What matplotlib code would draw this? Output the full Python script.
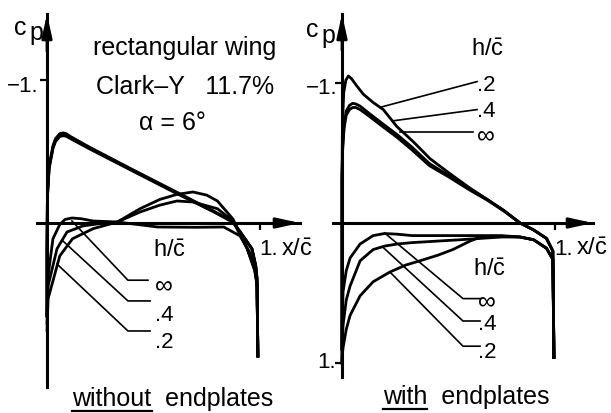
import matplotlib.pyplot as plt

plt.rcParams['font.family'] = ['Liberation Sans', 'DejaVu Sans']
plt.rcParams['mathtext.fontset'] = 'custom'
plt.rcParams['mathtext.rm'] = 'Liberation Sans'
plt.rcParams['mathtext.it'] = 'Liberation Sans'

W, H = 611, 414

# ---- without endplates: pressure distributions, c_p over x/c ----
# upper surface, same stations for every h/c
wo_up_x = [0.0, 0.0, 0.002, 0.01, 0.028, 0.04, 0.06, 0.075, 0.09, 0.11, 0.2, 0.4,
           0.61, 0.78, 0.873, 0.92, 0.962, 0.98, 0.986, 0.99]
wo_up_inf = [0.65, 0.2, -0.2, -0.4, -0.54, -0.59, -0.625, -0.63, -0.625, -0.605, -0.53, -0.375,
             -0.215, -0.085, -0.01, 0.09, 0.18, 0.3, 0.39, 0.93]
wo_up_04 = [0.65, 0.2, -0.19, -0.39, -0.53, -0.58, -0.615, -0.62, -0.615, -0.597, -0.524, -0.37,
            -0.21, -0.082, -0.008, 0.09, 0.18, 0.3, 0.39, 0.93]
wo_up_02 = [0.65, 0.2, -0.18, -0.38, -0.52, -0.57, -0.605, -0.61, -0.607, -0.59, -0.518, -0.365,
            -0.205, -0.08, -0.005, 0.09, 0.18, 0.3, 0.39, 0.93]

# lower surface
wo_lo_inf_x = [0.0, 0.005, 0.028, 0.06, 0.085, 0.117, 0.16, 0.216, 0.33, 0.52, 0.7, 0.83,
               0.906, 0.95, 0.977, 0.986, 0.99]
wo_lo_inf = [0.65, 0.37, 0.11, 0.01, -0.025, -0.035, -0.03, -0.014, -0.007, 0.028, 0.03, 0.028,
             0.09, 0.2, 0.33, 0.45, 0.93]
wo_lo_04_x = [0.0, 0.005, 0.047, 0.094, 0.17, 0.25, 0.33, 0.437, 0.53, 0.61, 0.685, 0.8,
              0.873, 0.94, 0.975, 0.986, 0.99]
wo_lo_04 = [0.7, 0.44, 0.18, 0.063, 0.02, 0.004, -0.007, -0.077, -0.125, -0.154, -0.147, -0.1,
            -0.014, 0.18, 0.33, 0.42, 0.93]
wo_lo_02_x = [0.0, 0.005, 0.06, 0.12, 0.216, 0.33, 0.437, 0.53, 0.61, 0.685, 0.75, 0.8,
              0.873, 0.94, 0.975, 0.986, 0.99]
wo_lo_02 = [0.75, 0.53, 0.23, 0.11, 0.04, -0.007, -0.1, -0.165, -0.2, -0.217, -0.195, -0.154,
            -0.028, 0.18, 0.33, 0.42, 0.93]

# ---- with endplates ----
we_up_02_x = [0.0, 0.0, 0.002, 0.008, 0.018, 0.03, 0.045, 0.069, 0.1, 0.147, 0.194, 0.257,
              0.335, 0.413, 0.5, 0.6, 0.68, 0.76, 0.836, 0.9, 0.96, 0.99, 0.995]
we_up_02 = [0.9, -0.3, -0.7, -0.93, -1.02, -1.05, -1.03, -0.98, -0.92, -0.86, -0.81, -0.69,
            -0.58, -0.46, -0.36, -0.25, -0.17, -0.09, 0.0, 0.05, 0.11, 0.2, 0.96]
we_up_x = [0.0, 0.0, 0.003, 0.01, 0.02, 0.035, 0.05, 0.065, 0.085, 0.13, 0.19, 0.26,
           0.33, 0.41, 0.5, 0.6, 0.68, 0.76, 0.836, 0.9, 0.96, 0.99, 0.995]
we_up_inf = [0.9, -0.3, -0.52, -0.68, -0.77, -0.81, -0.825, -0.825, -0.81, -0.76, -0.69, -0.61,
             -0.52, -0.41, -0.33, -0.235, -0.165, -0.085, 0.0, 0.05, 0.11, 0.2, 0.96]
we_up_04 = [0.9, -0.32, -0.55, -0.71, -0.8, -0.84, -0.855, -0.85, -0.835, -0.78, -0.71, -0.63,
            -0.54, -0.425, -0.34, -0.245, -0.17, -0.088, 0.0, 0.05, 0.11, 0.2, 0.96]

we_lo_x = [0.0, 0.001, 0.005, 0.02, 0.038, 0.085, 0.146, 0.2, 0.26, 0.33, 0.55, 0.75,
           0.836, 0.9, 0.96, 0.99, 0.995]
we_lo_inf = [1.0, 0.7, 0.49, 0.34, 0.25, 0.15, 0.09, 0.075, 0.08, 0.09, 0.09, 0.09,
             0.1, 0.12, 0.18, 0.26, 0.96]
we_lo_04 = [1.0, 0.85, 0.73, 0.55, 0.45, 0.27, 0.19, 0.165, 0.15, 0.14, 0.12, 0.1,
            0.1, 0.12, 0.18, 0.26, 0.96]
we_lo_02_x = [0.0, 0.001, 0.005, 0.02, 0.038, 0.085, 0.146, 0.225, 0.3, 0.366, 0.45, 0.52,
              0.6, 0.65, 0.75, 0.836, 0.9, 0.96, 0.99, 0.995]
we_lo_02 = [1.0, 0.95, 0.89, 0.76, 0.66, 0.52, 0.42, 0.35, 0.3, 0.27, 0.23, 0.19,
            0.13, 0.1, 0.095, 0.1, 0.12, 0.18, 0.26, 0.96]

hc_labels = ['\u221e', '.4', '.2']
HC = r'$\mathrm{h/}\bar{\mathrm{c}}$'
XC = r'$\mathrm{x/}\bar{\mathrm{c}}$'

LW = 2.0
FS = 16


def make_panel(box, origin, sx, sy):
    l, t, r, b = box
    ax = fig.add_axes([l / W, 1 - b / H, (r - l) / W, (b - t) / H])
    ax.set_xlim((l - origin[0]) / sx, (r - origin[0]) / sx)
    ax.set_ylim((b - origin[1]) / sy, (t - origin[1]) / sy)
    ax.patch.set_alpha(0)
    for s in ['top', 'right']:
        ax.spines[s].set_visible(False)
    ax.spines['left'].set_position(('data', 0))
    ax.spines['bottom'].set_position(('data', 0))
    for s in ['left', 'bottom']:
        ax.spines[s].set_linewidth(2.2)
    ax.tick_params(direction='out', length=5, width=1.6, labelleft=False, labelbottom=False)
    ax.set_xticks([1])
    # arrow heads on both axes
    head = dict(arrowstyle='-|>,head_length=1.0,head_width=0.22', color='k', lw=2,
                mutation_scale=14, shrinkA=0, shrinkB=0)
    ax.annotate('', xy=(1, 0), xytext=(0.9, 0),
                xycoords=('axes fraction', 'data'), textcoords=('axes fraction', 'data'),
                arrowprops=head)
    ax.annotate('', xy=(0, 1), xytext=(0, 0.9),
                xycoords=('data', 'axes fraction'), textcoords=('data', 'axes fraction'),
                arrowprops=head)
    return ax


def leader(ax, p0, elbow, p1):
    ax.plot([p0[0], elbow[0], p1[0]], [p0[1], elbow[1], p1[1]], color='k', lw=1.2)


def underline_word(text, word, y_px):
    fig.canvas.draw()
    r = fig.canvas.get_renderer()
    full = text.get_window_extent(r)
    tmp = fig.text(0, 0, word, fontsize=text.get_fontsize())
    w = tmp.get_window_extent(r).width
    tmp.remove()
    x0 = full.x0 / fig.dpi / (W / 100)
    x1 = (full.x0 + w) / fig.dpi / (W / 100)
    fig.add_artist(plt.Line2D([x0, x1], [1 - y_px / H] * 2, color='k', lw=1.6))


fig = plt.figure(figsize=(W / 100, H / 100), dpi=100)

# left panel
ax1 = make_panel((37, 15, 300, 388), (47, 224), 213, 143)
ax1.set_yticks([-1])
for cp in [wo_up_inf, wo_up_04, wo_up_02]:
    ax1.plot(wo_up_x, cp, color='k', lw=LW, solid_joinstyle='round')
ax1.plot(wo_lo_inf_x, wo_lo_inf, color='k', lw=LW, solid_joinstyle='round')
ax1.plot(wo_lo_04_x, wo_lo_04, color='k', lw=LW, solid_joinstyle='round')
ax1.plot(wo_lo_02_x, wo_lo_02, color='k', lw=LW, solid_joinstyle='round')

leader(ax1, (0.117, -0.014), (0.38, 0.40), (0.474, 0.40))
leader(ax1, (0.075, 0.126), (0.38, 0.545), (0.484, 0.545))
leader(ax1, (0.047, 0.287), (0.38, 0.755), (0.484, 0.755))
ax1.text(0.575, 0.19, HC, fontsize=FS + 1, ha='center', va='center')
for lab, cp in zip(hc_labels, [0.43, 0.64, 0.83]):
    ax1.text(0.55, cp, lab, fontsize=FS + 2 if lab == '\u221e' else FS, ha='center', va='center')

ax1.text(-0.042, -0.96, '\u22121.', fontsize=FS, ha='right', va='center')
ax1.text(0.995, 0.18, '1.', fontsize=FS, ha='left', va='center')
ax1.text(1.1, 0.18, XC, fontsize=FS + 1, ha='left', va='center')
ax1.text(-0.127, -1.37, 'c', fontsize=FS + 2, ha='center', va='center')
ax1.text(-0.052, -1.335, 'p', fontsize=FS + 2, ha='center', va='center')
ax1.text(0.648, -1.23, 'rectangular wing', fontsize=FS + 2, ha='center', va='center')
ax1.text(0.648, -0.958, 'Clark\u2013Y   11.7%', fontsize=FS + 2, ha='center', va='center')
ax1.text(0.59, -0.706, '\u03b1 = 6\u00b0', fontsize=FS + 2, ha='center', va='center')

# right panel
ax2 = make_panel((333, 15, 593, 378), (342, 224), 213, 140)
ax2.set_yticks([-1, 1])
ax2.plot(we_up_02_x, we_up_02, color='k', lw=LW, solid_joinstyle='round')
ax2.plot(we_up_x, we_up_04, color='k', lw=LW, solid_joinstyle='round')
ax2.plot(we_up_x, we_up_inf, color='k', lw=LW, solid_joinstyle='round')
ax2.plot(we_lo_x, we_lo_inf, color='k', lw=LW, solid_joinstyle='round')
ax2.plot(we_lo_x, we_lo_04, color='k', lw=LW, solid_joinstyle='round')
ax2.plot(we_lo_02_x, we_lo_02, color='k', lw=LW, solid_joinstyle='round')

ax2.plot([0.188, 0.634], [-0.83, -1.01], color='k', lw=1.2)
ax2.plot([0.24, 0.634], [-0.73, -0.81], color='k', lw=1.2)
ax2.plot([0.27, 0.615], [-0.65, -0.65], color='k', lw=1.2)
ax2.text(0.685, -1.24, HC, fontsize=FS + 1, ha='center', va='center')
for lab, cp in zip(hc_labels, [-0.63, -0.8, -0.99]):
    ax2.text(0.675, cp, lab, fontsize=FS + 2 if lab == '\u221e' else FS, ha='center', va='center')

leader(ax2, (0.2, 0.071), (0.568, 0.54), (0.648, 0.54))
leader(ax2, (0.19, 0.17), (0.568, 0.70), (0.648, 0.70))
leader(ax2, (0.225, 0.35), (0.568, 0.88), (0.648, 0.88))
ax2.text(0.69, 0.33, HC, fontsize=FS + 1, ha='center', va='center')
for lab, cp in zip(hc_labels, [0.55, 0.72, 0.92]):
    ax2.text(0.68, cp, lab, fontsize=FS + 2 if lab == '\u221e' else FS, ha='center', va='center')

ax2.text(-0.023, -0.97, '\u22121.', fontsize=FS, ha='right', va='center')
ax2.text(-0.03, 0.99, '1.', fontsize=FS, ha='right', va='center')
ax2.text(0.995, 0.18, '1.', fontsize=FS, ha='left', va='center')
ax2.text(1.1, 0.18, XC, fontsize=FS + 1, ha='left', va='center')
ax2.text(-0.141, -1.385, 'c', fontsize=FS + 2, ha='center', va='center')
ax2.text(-0.066, -1.345, 'p', fontsize=FS + 2, ha='center', va='center')

t1 = fig.text(173 / W, 1 - 399 / H, 'without  endplates', fontsize=FS + 2, ha='center', va='center')
t2 = fig.text(466 / W, 1 - 397 / H, 'with  endplates', fontsize=FS + 2, ha='center', va='center')
underline_word(t1, 'without', 412)
underline_word(t2, 'with', 410)

fig.savefig('out.png', dpi=100)
